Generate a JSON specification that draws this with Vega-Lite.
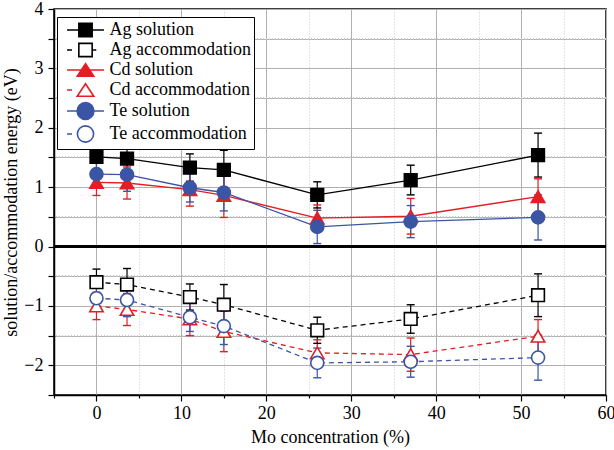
{
  "$schema": "https://vega.github.io/schema/vega-lite/v6.json",
  "width": 552,
  "height": 386,
  "autosize": {"type": "none"},
  "padding": {"left": 54, "top": 9, "right": 8, "bottom": 55},
  "background": "white",
  "config": {
    "font": "Liberation Serif",
    "view": {"stroke": "black", "strokeWidth": 1.5},
    "axis": {
      "labelFont": "Liberation Serif",
      "labelFontSize": 18,
      "labelColor": "black",
      "titleFont": "Liberation Serif",
      "titleFontSize": 18,
      "titleFontWeight": "normal",
      "titleColor": "black",
      "domainColor": "black",
      "domainWidth": 1.5,
      "tickColor": "black",
      "tickWidth": 1.2,
      "labelFlush": false,
      "labelOverlap": false,
      "grid": true,
      "gridWidth": 1
    },
    "axisY": {
      "values": [-2.5, -2, -1.5, -1, -0.5, 0, 0.5, 1, 1.5, 2, 2.5, 3, 3.5, 4],
      "labelExpr": "abs(datum.value - round(datum.value)) < 0.01 ? replace(format(datum.value, 'd'), '-', '\u2212') : ''",
      "tickSize": 6,
      "gridColor": "#b0b0b0",
      "labelPadding": 5,
      "titlePadding": 3
    },
    "legend": {
      "orient": "none",
      "legendX": 3,
      "legendY": 8,
      "padding": 3,
      "strokeColor": "black",
      "fillColor": "white",
      "symbolSize": 324,
      "symbolStrokeWidth": 1.6,
      "labelFont": "Liberation Serif",
      "labelFontSize": 18,
      "labelColor": "black",
      "labelLimit": 400,
      "rowPadding": -1,
      "symbolOffset": 15.5,
      "labelOffset": 14,
      "cornerRadius": 0
    }
  },
  "datasets": {
    "d": [
      {"s": "Ag solution", "el": "Ag", "k": "solution", "x": 0, "v": 1.51, "lo": 1.29, "hi": 1.73},
      {"s": "Ag solution", "el": "Ag", "k": "solution", "x": 3.6, "v": 1.48, "lo": 1.20, "hi": 1.76},
      {"s": "Ag solution", "el": "Ag", "k": "solution", "x": 11, "v": 1.33, "lo": 1.10, "hi": 1.56},
      {"s": "Ag solution", "el": "Ag", "k": "solution", "x": 15, "v": 1.29, "lo": 0.96, "hi": 1.62},
      {"s": "Ag solution", "el": "Ag", "k": "solution", "x": 26, "v": 0.87, "lo": 0.65, "hi": 1.09},
      {"s": "Ag solution", "el": "Ag", "k": "solution", "x": 37, "v": 1.12, "lo": 0.87, "hi": 1.37},
      {"s": "Ag solution", "el": "Ag", "k": "solution", "x": 52, "v": 1.54, "lo": 1.17, "hi": 1.91},
      {"s": "Ag accommodation", "el": "Ag", "k": "accommodation", "x": 0, "v": -0.60, "lo": -0.82, "hi": -0.38},
      {"s": "Ag accommodation", "el": "Ag", "k": "accommodation", "x": 3.6, "v": -0.64, "lo": -0.91, "hi": -0.37},
      {"s": "Ag accommodation", "el": "Ag", "k": "accommodation", "x": 11, "v": -0.85, "lo": -1.07, "hi": -0.63},
      {"s": "Ag accommodation", "el": "Ag", "k": "accommodation", "x": 15, "v": -0.98, "lo": -1.32, "hi": -0.64},
      {"s": "Ag accommodation", "el": "Ag", "k": "accommodation", "x": 26, "v": -1.41, "lo": -1.63, "hi": -1.19},
      {"s": "Ag accommodation", "el": "Ag", "k": "accommodation", "x": 37, "v": -1.22, "lo": -1.46, "hi": -0.98},
      {"s": "Ag accommodation", "el": "Ag", "k": "accommodation", "x": 52, "v": -0.82, "lo": -1.18, "hi": -0.46},
      {"s": "Cd solution", "el": "Cd", "k": "solution", "x": 0, "v": 1.08, "lo": 0.86, "hi": 1.30},
      {"s": "Cd solution", "el": "Cd", "k": "solution", "x": 3.6, "v": 1.07, "lo": 0.80, "hi": 1.34},
      {"s": "Cd solution", "el": "Cd", "k": "solution", "x": 11, "v": 0.96, "lo": 0.68, "hi": 1.24},
      {"s": "Cd solution", "el": "Cd", "k": "solution", "x": 15, "v": 0.86, "lo": 0.49, "hi": 1.23},
      {"s": "Cd solution", "el": "Cd", "k": "solution", "x": 26, "v": 0.48, "lo": 0.26, "hi": 0.70},
      {"s": "Cd solution", "el": "Cd", "k": "solution", "x": 37, "v": 0.51, "lo": 0.21, "hi": 0.81},
      {"s": "Cd solution", "el": "Cd", "k": "solution", "x": 52, "v": 0.84, "lo": 0.54, "hi": 1.14},
      {"s": "Cd accommodation", "el": "Cd", "k": "accommodation", "x": 0, "v": -1.00, "lo": -1.23, "hi": -0.77},
      {"s": "Cd accommodation", "el": "Cd", "k": "accommodation", "x": 3.6, "v": -1.06, "lo": -1.33, "hi": -0.79},
      {"s": "Cd accommodation", "el": "Cd", "k": "accommodation", "x": 11, "v": -1.22, "lo": -1.50, "hi": -0.94},
      {"s": "Cd accommodation", "el": "Cd", "k": "accommodation", "x": 15, "v": -1.43, "lo": -1.77, "hi": -1.09},
      {"s": "Cd accommodation", "el": "Cd", "k": "accommodation", "x": 26, "v": -1.79, "lo": -2.01, "hi": -1.57},
      {"s": "Cd accommodation", "el": "Cd", "k": "accommodation", "x": 37, "v": -1.82, "lo": -2.10, "hi": -1.54},
      {"s": "Cd accommodation", "el": "Cd", "k": "accommodation", "x": 52, "v": -1.51, "lo": -1.79, "hi": -1.23},
      {"s": "Te solution", "el": "Te", "k": "solution", "x": 0, "v": 1.22, "lo": 1.02, "hi": 1.42},
      {"s": "Te solution", "el": "Te", "k": "solution", "x": 3.6, "v": 1.21, "lo": 0.93, "hi": 1.49},
      {"s": "Te solution", "el": "Te", "k": "solution", "x": 11, "v": 0.99, "lo": 0.75, "hi": 1.23},
      {"s": "Te solution", "el": "Te", "k": "solution", "x": 15, "v": 0.91, "lo": 0.60, "hi": 1.22},
      {"s": "Te solution", "el": "Te", "k": "solution", "x": 26, "v": 0.33, "lo": 0.05, "hi": 0.61},
      {"s": "Te solution", "el": "Te", "k": "solution", "x": 37, "v": 0.42, "lo": 0.15, "hi": 0.69},
      {"s": "Te solution", "el": "Te", "k": "solution", "x": 52, "v": 0.49, "lo": 0.11, "hi": 0.87},
      {"s": "Te accommodation", "el": "Te", "k": "accommodation", "x": 0, "v": -0.87, "lo": -1.07, "hi": -0.67},
      {"s": "Te accommodation", "el": "Te", "k": "accommodation", "x": 3.6, "v": -0.90, "lo": -1.18, "hi": -0.62},
      {"s": "Te accommodation", "el": "Te", "k": "accommodation", "x": 11, "v": -1.19, "lo": -1.43, "hi": -0.95},
      {"s": "Te accommodation", "el": "Te", "k": "accommodation", "x": 15, "v": -1.34, "lo": -1.65, "hi": -1.03},
      {"s": "Te accommodation", "el": "Te", "k": "accommodation", "x": 26, "v": -1.96, "lo": -2.21, "hi": -1.71},
      {"s": "Te accommodation", "el": "Te", "k": "accommodation", "x": 37, "v": -1.94, "lo": -2.20, "hi": -1.68},
      {"s": "Te accommodation", "el": "Te", "k": "accommodation", "x": 52, "v": -1.87, "lo": -2.25, "hi": -1.49}
    ]
  },
  "data": {"name": "d"},
  "encoding": {
    "x": {
      "field": "x", "type": "quantitative",
      "scale": {"domain": [-5, 60], "nice": false, "zero": false},
      "axis": {
        "title": "Mo concentration (%)",
        "values": [-5, 0, 5, 10, 15, 20, 25, 30, 35, 40, 45, 50, 55, 60],
        "format": "d",
        "labelExpr": "datum.value % 10 === 0 ? datum.label : ''",
        "tickSize": {"condition": {"test": "datum.value % 10 !== 0", "value": 3}, "value": 6},
        "gridDash": {"condition": {"test": "datum.value % 10 !== 0", "value": [1, 2]}, "value": []},
        "gridColor": {"condition": {"test": "datum.value % 10 !== 0", "value": "#c8c8c8"}, "value": "#b0b0b0"},
        "labelPadding": 3,
        "titlePadding": 6
      }
    },
    "y": {
      "field": "v", "type": "quantitative", "title": "solution/accommodation energy (eV)",
      "scale": {"domain": [-2.5, 4], "nice": false, "zero": false}
    }
  },
  "layer": [
    {"mark": {"type": "rule", "color": "#c8c8c8", "strokeWidth": 1, "strokeDash": [1, 2]}, "encoding": {"y": {"datum": -1.5, "type": "quantitative", "title": "solution/accommodation energy (eV)"}, "x": null}},
    {"mark": {"type": "rule", "color": "#c8c8c8", "strokeWidth": 1, "strokeDash": [1, 2]}, "encoding": {"y": {"datum": -0.5, "type": "quantitative", "title": "solution/accommodation energy (eV)"}, "x": null}},
    {"mark": {"type": "rule", "color": "#c8c8c8", "strokeWidth": 1, "strokeDash": [1, 2]}, "encoding": {"y": {"datum": 0.5, "type": "quantitative", "title": "solution/accommodation energy (eV)"}, "x": null}},
    {"mark": {"type": "rule", "color": "#c8c8c8", "strokeWidth": 1, "strokeDash": [1, 2]}, "encoding": {"y": {"datum": 1.5, "type": "quantitative", "title": "solution/accommodation energy (eV)"}, "x": null}},
    {"mark": {"type": "rule", "color": "#c8c8c8", "strokeWidth": 1, "strokeDash": [1, 2]}, "encoding": {"y": {"datum": 2.5, "type": "quantitative", "title": "solution/accommodation energy (eV)"}, "x": null}},
    {"mark": {"type": "rule", "color": "#c8c8c8", "strokeWidth": 1, "strokeDash": [1, 2]}, "encoding": {"y": {"datum": 3.5, "type": "quantitative", "title": "solution/accommodation energy (eV)"}, "x": null}},
    {
      "transform": [{"filter": "datum.x > 1000"}],
      "mark": {"type": "point", "filled": true, "opacity": 1, "strokeWidth": 1.6},
      "encoding": {
        "shape": {"field": "s", "type": "nominal", "title": null,
          "scale": {"domain": ["Ag solution", "Ag accommodation", "Cd solution", "Cd accommodation", "Te solution", "Te accommodation"],
            "range": [
              "M-2.05,0H-0.74M0.74,0H2.05M-0.74,-0.74H0.74V0.74H-0.74Z",
              "M-2.05,0H-1.5M0.74,0H1.2M-0.74,-0.74H0.74V0.74H-0.74Z",
              "M-2.05,0H-0.46M0.46,0H2.05M0,-0.7L0.92,0.7L-0.92,0.7Z",
              "M-2.05,0H-1.5M0,-0.7L0.92,0.7L-0.92,0.7Z",
              "M-2.05,0H-0.93M0.93,0H2.05M0.93,0A0.93,0.93,0,1,1,-0.93,0A0.93,0.93,0,1,1,0.93,0Z",
              "M-2.05,0H-1.5M0.9,0A0.9,0.9,0,1,1,-0.9,0A0.9,0.9,0,1,1,0.9,0Z"
            ]}},
        "stroke": {"field": "s", "type": "nominal", "title": null,
          "scale": {"domain": ["Ag solution", "Ag accommodation", "Cd solution", "Cd accommodation", "Te solution", "Te accommodation"],
            "range": ["#000000", "#000000", "#e31e25", "#e31e25", "#3b55a5", "#3b55a5"]}},
        "fill": {"field": "s", "type": "nominal", "title": null,
          "scale": {"domain": ["Ag solution", "Ag accommodation", "Cd solution", "Cd accommodation", "Te solution", "Te accommodation"],
            "range": ["#000000", "#ffffff", "#e31e25", "#ffffff", "#3b55a5", "#ffffff"]}}
      }
    },
    {
      "mark": {"type": "rule", "color": "black", "strokeWidth": 1.5},
      "encoding": {"y": {"datum": 0, "type": "quantitative", "title": "solution/accommodation energy (eV)"}, "x": null}
    },
    {
      "mark": {"type": "rule", "strokeWidth": 1.2},
      "encoding": {
        "y": {"field": "lo", "type": "quantitative", "title": "solution/accommodation energy (eV)"},
        "y2": {"field": "hi"},
        "stroke": {"field": "s", "type": "nominal", "title": null}
      }
    },
    {
      "mark": {"type": "rule", "strokeWidth": 1.4, "xOffset": -4, "x2Offset": 4},
      "encoding": {
        "x2": {"field": "x"},
        "y": {"field": "hi", "type": "quantitative", "title": "solution/accommodation energy (eV)"},
        "stroke": {"field": "s", "type": "nominal", "title": null}
      }
    },
    {
      "mark": {"type": "rule", "strokeWidth": 1.4, "xOffset": -4, "x2Offset": 4},
      "encoding": {
        "x2": {"field": "x"},
        "y": {"field": "lo", "type": "quantitative", "title": "solution/accommodation energy (eV)"},
        "stroke": {"field": "s", "type": "nominal", "title": null}
      }
    },
    {
      "transform": [{"filter": "datum.k === 'solution'"}],
      "mark": {"type": "line", "strokeWidth": 1.3},
      "encoding": {"stroke": {"field": "s", "type": "nominal", "title": null}}
    },
    {
      "transform": [{"filter": "datum.k === 'accommodation'"}],
      "mark": {"type": "line", "strokeWidth": 1.3, "strokeDash": [5, 4]},
      "encoding": {"stroke": {"field": "s", "type": "nominal", "title": null}}
    },
    {
      "transform": [{"filter": "datum.el === 'Ag'"}],
      "mark": {"type": "point", "shape": "square", "size": 160, "filled": true, "opacity": 1, "strokeWidth": 1.6},
      "encoding": {
        "stroke": {"field": "s", "type": "nominal", "title": null},
        "fill": {"field": "s", "type": "nominal", "title": null}
      }
    },
    {
      "transform": [{"filter": "datum.el === 'Cd'"}],
      "mark": {"type": "point", "shape": "triangle-up", "size": 180, "filled": true, "opacity": 1, "strokeWidth": 1.6},
      "encoding": {
        "stroke": {"field": "s", "type": "nominal", "title": null},
        "fill": {"field": "s", "type": "nominal", "title": null}
      }
    },
    {
      "transform": [{"filter": "datum.el === 'Te'"}],
      "mark": {"type": "point", "shape": "circle", "size": 170, "filled": true, "opacity": 1, "strokeWidth": 1.6},
      "encoding": {
        "stroke": {"field": "s", "type": "nominal", "title": null},
        "fill": {"field": "s", "type": "nominal", "title": null}
      }
    }
  ]
}
